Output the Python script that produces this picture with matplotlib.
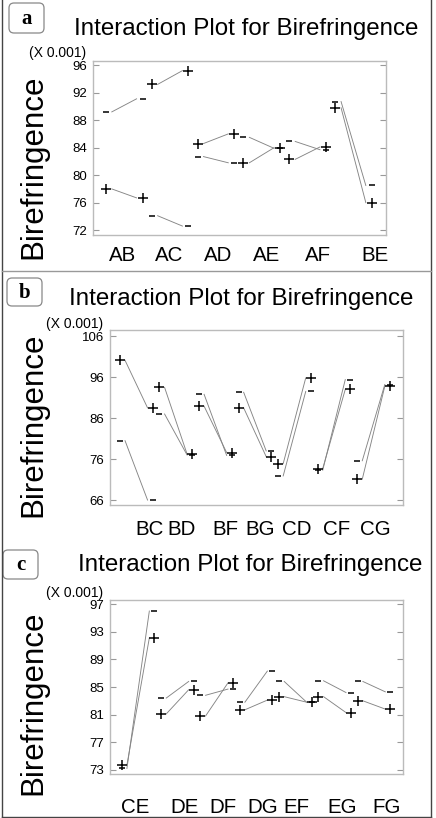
import matplotlib
matplotlib.use("Agg")
import matplotlib.pyplot as plt
from matplotlib.patches import FancyBboxPatch
from matplotlib.lines import Line2D
import numpy as np

plt.rcParams['font.family'] = ['Liberation Sans', 'DejaVu Sans']

# --- data (values x 0.001) ---
# for each pair: level "-" of 2nd factor (left, right), level "+" (left, right)
pairs_a = ['AB', 'AC', 'AD', 'AE', 'AF', 'BE']
minus_a = [(89.2, 91.1), (74.1, 72.6), (82.7, 81.8), (85.5, 83.9), (84.9, 83.7), (90.7, 78.5)]
plus_a = [(78.0, 76.7), (93.2, 95.2), (84.6, 86.0), (81.8, 84.0), (82.3, 84.1), (89.8, 76.0)]
yticks_a = [72, 76, 80, 84, 88, 92, 96]

pairs_b = ['BC', 'BD', 'BF', 'BG', 'CD', 'CF', 'CG']
minus_b = [(80.5, 66.0), (87.0, 77.0), (91.8, 76.9), (92.3, 78.0), (71.9, 92.5), (73.3, 95.4), (75.6, 94.2)]
plus_b = [(100.1, 88.5), (93.5, 77.2), (88.9, 77.6), (88.5, 76.6), (74.9, 95.8), (73.7, 93.0), (71.1, 93.8)]
yticks_b = [66, 76, 86, 96, 106]

pairs_c = ['CE', 'DE', 'DF', 'DG', 'EF', 'EG', 'FG']
minus_c = [(73.2, 96.0), (83.4, 85.8), (83.8, 84.7), (82.8, 87.3), (85.8, 82.8), (85.9, 84.2), (85.8, 84.3)]
plus_c = [(73.7, 92.1), (81.1, 84.6), (80.8, 85.6), (81.7, 83.1), (83.6, 82.8), (83.6, 81.3), (83.0, 81.8)]
yticks_c = [73, 77, 81, 85, 89, 93, 97]

W, H = 436, 818
fig = plt.figure(figsize=(W / 100, H / 100), dpi=100)


def px_axes(left, top, right, bottom):
    # pixel box -> figure fraction axes
    return fig.add_axes([left / W, 1 - bottom / H, (right - left) / W, (bottom - top) / H])


def draw_panel(ax, pairs, minus, plus, yticks, width, xlim, ylim, label_pos, pad):
    inset = 0.13
    for i in range(len(pairs)):
        x0, x1 = i, i + width
        for vals, mk, ms in ((minus[i], '_', 4), (plus[i], '+', 7)):
            ax.plot([x0 + inset, x1 - inset], vals, color='#858585', lw=0.65)
            ax.plot([x0, x1], vals, ls='none', marker=mk, ms=ms, mew=1.1, color='black')
    ax.set_xlim(xlim)
    ax.set_ylim(ylim)
    ax.set_yticks(yticks)
    ax.set_xticks(label_pos)
    ax.set_xticklabels(pairs, fontsize=14.8)
    ax.tick_params(axis='x', length=0, pad=pad)
    ax.tick_params(axis='y', direction='in', length=4, color='#999999',
                   labelsize=9.5, pad=4, right=True)
    for s in ax.spines.values():
        s.set_color('#bbbbbb')
        s.set_linewidth(1.0)


# panel a
ax_a = px_axes(93, 61, 386, 235)
draw_panel(ax_a, pairs_a, minus_a, plus_a, yticks_a, 0.8, (-0.28, 6.11), (71.3, 96.6),
           [0.37, 1.38, 2.45, 3.51, 4.63, 5.87], 8)
# panel b
ax_b = px_axes(110, 330, 403, 505)
draw_panel(ax_b, pairs_b, minus_b, plus_b, yticks_b, 0.83, (-0.25, 7.16), (64.8, 107.5),
           [0.76, 1.57, 2.66, 3.54, 4.48, 5.49, 6.46], 11)
# panel c
ax_c = px_axes(110, 600, 403, 774)
draw_panel(ax_c, pairs_c, minus_c, plus_c, yticks_c, 0.83, (-0.3, 7.15), (72.4, 97.6),
           [0.33, 1.60, 2.57, 3.59, 4.45, 5.60, 6.74], 17)

# titles, y labels, scale notes, panel letters
panels = [
    ('a', (9, 3, 35, 30), (246, 29), 167, (86, 53)),
    ('b', (7, 278, 35, 28), (241, 299), 425, (103, 324)),
    ('c', (3, 550, 35, 29), (250, 565), 703, (103, 593)),
]
for letter, box, title_xy, ylab_y, note_xy in panels:
    bx, by, bw, bh = box
    fig.patches.append(FancyBboxPatch((bx / 100, (H - by - bh) / 100), bw / 100, bh / 100,
                                      boxstyle='round,pad=0,rounding_size=0.05',
                                      transform=fig.dpi_scale_trans, fc='white',
                                      ec='#888888', lw=0.9))
    fig.text((bx + bw / 2) / W, 1 - (by + bh / 2 + 1) / H, letter, family='Liberation Serif',
             fontweight='bold', fontsize=15, ha='center', va='center')
    fig.text(title_xy[0] / W, 1 - title_xy[1] / H, 'Interaction Plot for Birefringence',
             fontsize=17.4, ha='center', va='center')
    fig.text(33 / W, 1 - ylab_y / H, 'Birefringence', rotation=90, fontsize=22.5,
             ha='center', va='center')
    fig.text(note_xy[0] / W, 1 - note_xy[1] / H, '(X 0.001)', fontsize=10,
             ha='right', va='center')

# outer frame and separator
for xs, ys, c in (([1.5, 1.5], [0, 816.5], '#444444'), ([431, 431], [0, 816.5], '#444444'),
                  ([1.5, 431], [816.5, 816.5], '#444444'), ([1.5, 431], [271, 271], '#999999')):
    fig.add_artist(Line2D(np.array(xs) / W, 1 - np.array(ys) / H, color=c, lw=1.0))

fig.savefig('out.png', dpi=100)
